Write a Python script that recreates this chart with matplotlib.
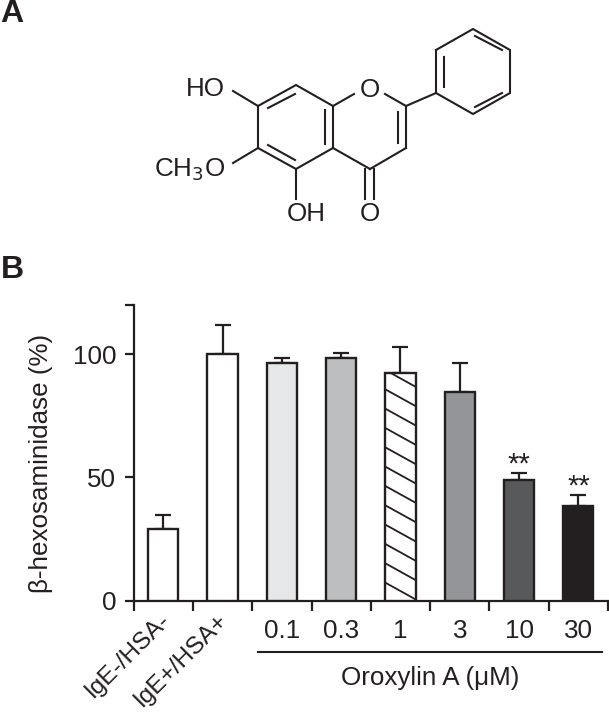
import numpy as np
import matplotlib
matplotlib.use('Agg')
from matplotlib import pyplot as plt

plt.rcParams['font.family'] = ['Liberation Sans', 'DejaVu Sans']

# panel B data
groups = ['IgE-/HSA-', 'IgE+/HSA+', '0.1', '0.3', '1', '3', '10', '30']
values = [29, 100, 96.5, 98.5, 92.5, 84.5, 49, 38.5]
err_tops = [34.8, 112, 98.3, 100.7, 102.8, 96.3, 51.7, 43]
bar_colors = ['white', 'white', '#e6e7e8', '#bcbec0', 'white', '#939598', '#58595b', '#231f20']
stars = ['', '', '', '', '', '', '**', '**']
y_ticks = [0, 50, 100]

# panel A structure, pixel positions of the drawing
ring_a = [(258, 106), (296, 85), (333, 106), (333, 148), (296, 169), (258, 148)]
phenyl = [(436, 50), (473, 29), (510, 50), (510, 93), (473, 114), (436, 93)]
bonds = [
    ((333, 106), (354, 94)), ((406, 106), (385, 94)),
    ((406, 106), (406, 148)), ((406, 148), (370, 169)), ((370, 169), (333, 148)),
    ((406, 106), (436, 93)),
    ((258, 106), (233, 91)), ((258, 148), (233, 163)), ((296, 169), (296, 199)),
    ((365, 169), (365, 199)), ((374, 169), (374, 199)),
    ((268, 108), (295, 94)), ((325, 110), (325, 144)), ((268, 145), (295, 160)),
    ((398, 112), (398, 143)), ((444, 57), (444, 87)), ((475, 36), (502, 50)),
    ((475, 107), (502, 93)),
]
atoms = [('HO', 225, 89, 'right'), ('CH$_3$O', 225, 170, 'right'),
         ('OH', 306, 214, 'center'), ('O', 370, 214, 'center'), ('O', 370, 90, 'center')]

ink = '#231f20'
fs = 18.7
W, H = 609, 715
fig = plt.figure(figsize=(W / 100, H / 100), dpi=100)

# overlay in pixel coordinates for the structure and free text
ov = fig.add_axes([0, 0, 1, 1])
ov.set_xlim(0, W)
ov.set_ylim(H, 0)
ov.axis('off')

for ring in (ring_a, phenyl):
    xs, ys = zip(*(ring + ring[:1]))
    ov.plot(xs, ys, color=ink, lw=1.5, solid_joinstyle='miter')
for p, q in bonds:
    ov.plot([p[0], q[0]], [p[1], q[1]], color=ink, lw=1.5)
for label, x, y, ha in atoms:
    ov.text(x, y, label, ha=ha, va='center', fontsize=fs, color=ink)

ov.text(0, 14, 'A', ha='left', va='center', fontsize=23, fontweight='bold', color=ink)
ov.text(1, 270, 'B', ha='left', va='center', fontsize=23, fontweight='bold', color=ink)

# bar chart
ax = fig.add_axes([133.6 / W, 1 - 600.5 / H, (608 - 133.6) / W, (600.5 - 305) / H])
ax.patch.set_alpha(0)
x = np.arange(len(groups))
bars = ax.bar(x, values, width=0.51, color=bar_colors, edgecolor=ink, linewidth=1.7, zorder=3)
for xi, v, top in zip(x, values, err_tops):
    ax.errorbar(xi, v, yerr=[[0], [top - v]], color=ink, elinewidth=1.6, capsize=5.6,
                capthick=1.6, zorder=2)
for xi, top, s in zip(x, err_tops, stars):
    if s:
        ax.text(xi, top + 3.4, s, ha='center', va='center', fontsize=21, color=ink)

# hatch of the 1 uM bar, shallower than the built in hatch angle
hatched = bars[4]
xc = x[4]
for off in np.arange(-8, 104, 7.85):
    ln, = ax.plot([xc - 0.3, xc + 0.3], [off + 8, off], color=ink, lw=1.3, zorder=4)
    ln.set_clip_path(hatched)

ax.set_xlim(-0.5, 7.5)
ax.set_ylim(0, 120)
ax.spines['top'].set_visible(False)
ax.spines['right'].set_visible(False)
ax.spines['left'].set_linewidth(1.6)
ax.spines['bottom'].set_linewidth(1.6)
ax.spines['left'].set_color(ink)
ax.spines['bottom'].set_color(ink)
ax.set_yticks(y_ticks + [120])
ax.set_yticklabels([str(t) for t in y_ticks] + [''])
ax.tick_params(axis='y', length=6.5, width=1.6, color=ink, labelsize=fs, labelcolor=ink, pad=6)
ax.set_xticks(np.arange(-0.5, 8))
ax.set_xticklabels([])
ax.tick_params(axis='x', length=7, width=1.6, color=ink)
ax.set_xticks(x, minor=True)
ax.set_xticklabels([''] * 2 + groups[2:], minor=True)
ax.tick_params(axis='x', which='minor', length=0, labelsize=fs, labelcolor=ink, pad=13)

ov.text(41, 463, '\u03b2-hexosaminidase (%)', rotation=90, ha='center', va='center',
        fontsize=fs, color=ink)
ov.text(159, 609, groups[0], rotation=45, rotation_mode='anchor', ha='right', va='top',
        fontsize=17.6, color=ink)
ov.text(217, 609, groups[1], rotation=45, rotation_mode='anchor', ha='right', va='top',
        fontsize=17.6, color=ink)

ov.plot([257.5, 602], [652, 652], color=ink, lw=1.5)
ov.text(430, 678, 'Oroxylin A (\u03bcM)', ha='center', va='center', fontsize=fs, color=ink)

fig.savefig('out.png', dpi=100)
